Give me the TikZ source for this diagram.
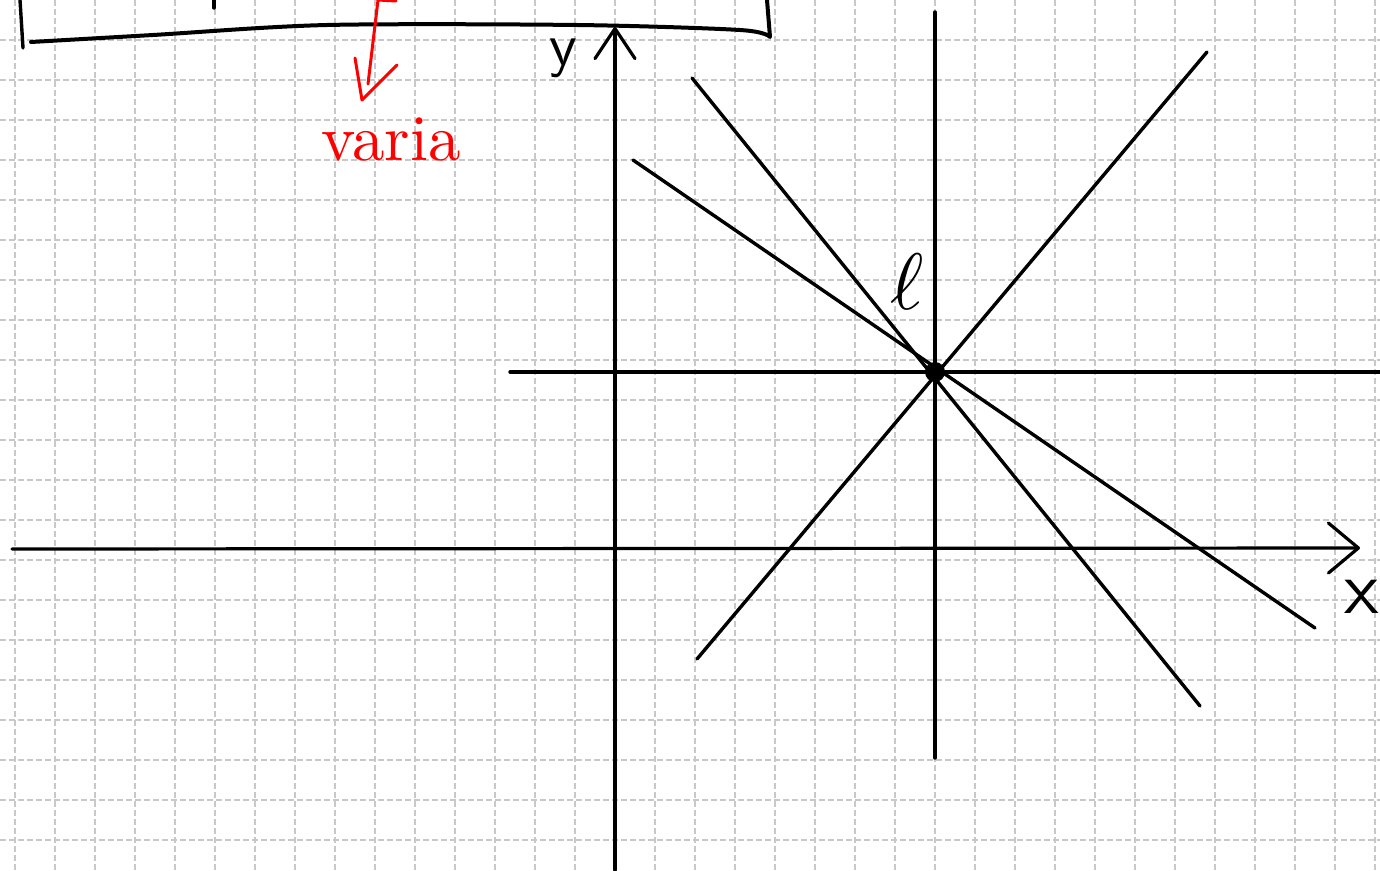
\documentclass[tikz,border=0pt]{standalone}
\usepackage{tikz}
\usetikzlibrary{arrows.meta, positioning, calc}
\definecolor{gridcolor}{HTML}{C8C8C8}
\definecolor{inkred}{HTML}{FF0000}

\begin{document}
\begin{tikzpicture}[
    x=1pt, y=-1pt,
    gridline/.style={gridcolor, line width=1.8pt, dash pattern=on 6pt off 3pt},
    ink/.style={line width=3.4pt, line cap=round, line join=round},
    redink/.style={ink, inkred, line width=3pt},
    axis/.style={ink, line width=3.2pt},
    letter/.style={inner sep=0pt, font=\sffamily}
]
    \useasboundingbox[fill=white] (0,0) rectangle (1380,870);

    % Grid
    \foreach \gx in {15,55,...,1375}
        \draw[gridline] (\gx,0) -- (\gx,870);
    \foreach \gy in {40,80,...,840}
        \draw[gridline] (0,\gy) -- (1380,\gy);

    % Box at the top
    \draw[ink] (20,0) -- (23,48);
    \draw[ink, line width=4pt] plot[smooth] coordinates {(31,42) (153,35) (327,25) (577,25) (740,30) (770,37)} -- (767,0);
    \draw[ink] (214,0) -- (214,8);

    % Red arrow and label
    \coordinate (redtop) at (378,0);
    \coordinate (redend) at (368,84);
    \draw[redink] (396,1) -- (redtop) -- (redend);
    \draw[redink] (355,58) -- (362,100) -- (397,65);
    \node[text=inkred, scale=6.5, inner sep=0pt] (varia) at (391,140) {varia};

    % Axes
    \coordinate (xstart) at (12,549);
    \coordinate (xend) at (1360,548);
    \coordinate (ystart) at (615,870);
    \coordinate (yend) at (615,27);
    \draw[axis, -{Straight Barb[length=30pt, width=50pt, round]}] (xstart) -- (xend);
    \draw[axis, -{Straight Barb[length=30pt, width=40pt, round]}] (ystart) -- (yend);
    \node[letter, scale=6] (ylabel) at (563,58) {y};
    \node[letter, scale=7.5] (xlabel) at (1362,597) {x};

    % Axes through P
    \coordinate (P) at (935,372);
    \draw[ink] (510,372) -- (1380,372);
    \draw[ink] (935,12) -- (935,758);

    % Lines through P
    \foreach \ax/\ay/\bx/\by in {633/160/1315/628, 692/78/1200/706, 697/659/1207/52}
        \draw[ink] (\ax,\ay) -- (\bx,\by);
    \fill (P) circle (10pt);
    \node[scale=8, inner sep=0pt] (ell) at (907,282) {$\ell$};

\end{tikzpicture}
\end{document}
